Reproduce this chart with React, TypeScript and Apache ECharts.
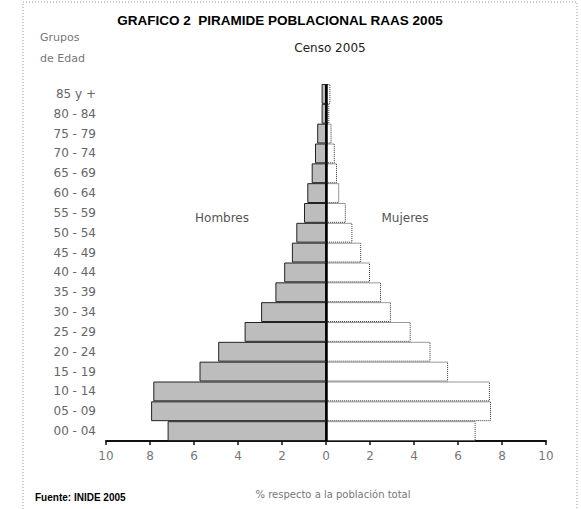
import React, { useEffect, useRef } from "react";
import * as echarts from "echarts";

const categories = [
  "00 - 04", "05 - 09", "10 - 14", "15 - 19", "20 - 24", "25 - 29",
  "30 - 34", "35 - 39", "40 - 44", "45 - 49", "50 - 54", "55 - 59",
  "60 - 64", "65 - 69", "70 - 74", "75 - 79", "80 - 84", "85 y +",
];
const hombres = [7.2, 7.95, 7.85, 5.75, 4.9, 3.7, 2.95, 2.3, 1.9, 1.55, 1.35, 1.0, 0.85, 0.65, 0.5, 0.4, 0.2, 0.2];
const mujeres = [6.8, 7.5, 7.45, 5.55, 4.75, 3.85, 2.95, 2.5, 2.0, 1.6, 1.2, 0.9, 0.6, 0.5, 0.4, 0.25, 0.15, 0.2];
const xTicks = { min: -10, max: 10, interval: 2 };

const FONT = "DejaVu Sans";

export default function App() {
  const ref = useRef<HTMLDivElement>(null);
  useEffect(() => {
    if (!ref.current) return;
    const chart = echarts.init(ref.current, null, { renderer: "svg" });
    chart.setOption({
      animation: false,
      backgroundColor: "#fff",
      grid: { left: 106, right: 35, top: 84, bottom: 68, containLabel: false },
      xAxis: {
        type: "value",
        min: xTicks.min,
        max: xTicks.max,
        interval: xTicks.interval,
        axisLine: { show: true, onZero: false, lineStyle: { color: "#111", width: 2 } },
        axisTick: { show: true, length: 4, lineStyle: { color: "#111", width: 1.5 } },
        axisLabel: {
          color: "#777",
          fontFamily: FONT,
          fontSize: 12,
          margin: 9,
          formatter: (v: number) => String(Math.abs(v)),
        },
        splitLine: { show: false },
      },
      yAxis: {
        type: "category",
        data: categories,
        axisLine: { show: false },
        axisTick: { show: false },
        axisLabel: { color: "#666", fontFamily: FONT, fontSize: 12, margin: 10 },
      },
      series: [
        {
          name: "Hombres",
          type: "bar",
          stack: "p",
          barCategoryGap: 0,
          data: hombres.map((v) => -v),
          itemStyle: { color: "#bdbdbd", borderColor: "#222", borderWidth: 1 },
          markLine: {
            silent: true,
            symbol: "none",
            label: { show: false },
            lineStyle: { color: "#000", width: 2.5, type: "solid" },
            data: [{ xAxis: 0 }],
          },
        },
        {
          name: "Mujeres",
          type: "bar",
          stack: "p",
          barCategoryGap: 0,
          data: mujeres,
          itemStyle: { color: "#fff", borderColor: "#333", borderWidth: 1, borderType: "dotted" },
        },
      ],
      graphic: [
        {
          type: "rect",
          shape: { x: 23, y: 2, width: 554, height: 520 },
          style: { fill: "none", stroke: "#999", lineWidth: 1, lineDash: [1, 2] },
          silent: true,
        },
        {
          type: "text",
          x: 280,
          y: 20,
          style: {
            text: "GRAFICO 2  PIRAMIDE POBLACIONAL RAAS 2005",
            font: "bold 13.5px 'Liberation Sans'",
            fill: "#000",
            align: "center",
            verticalAlign: "middle",
          },
        },
        {
          type: "text",
          x: 330,
          y: 48,
          style: { text: "Censo 2005", font: `12px '${FONT}'`, fill: "#222", align: "center", verticalAlign: "middle" },
        },
        {
          type: "text",
          x: 40,
          y: 37,
          style: { text: "Grupos", font: `11px '${FONT}'`, fill: "#777", align: "left", verticalAlign: "middle" },
        },
        {
          type: "text",
          x: 40,
          y: 58,
          style: { text: "de Edad", font: `11px '${FONT}'`, fill: "#777", align: "left", verticalAlign: "middle" },
        },
        {
          type: "text",
          x: 222,
          y: 218,
          style: { text: "Hombres", font: `12px '${FONT}'`, fill: "#555", align: "center", verticalAlign: "middle" },
        },
        {
          type: "text",
          x: 405,
          y: 218,
          style: { text: "Mujeres", font: `12px '${FONT}'`, fill: "#555", align: "center", verticalAlign: "middle" },
        },
        {
          type: "text",
          x: 333,
          y: 494,
          style: {
            text: "% respecto a la población total",
            font: `10px '${FONT}'`,
            fill: "#777",
            align: "center",
            verticalAlign: "middle",
          },
        },
        {
          type: "text",
          x: 35,
          y: 497,
          style: {
            text: "Fuente: INIDE 2005",
            font: "bold 10px 'Liberation Sans'",
            fill: "#000",
            align: "left",
            verticalAlign: "middle",
          },
        },
      ],
    });
    return () => chart.dispose();
  }, []);
  return (
    <div
      ref={ref}
      style={{ position: "fixed", left: 0, top: 0, width: 581, height: 509 }}
    />
  );
}
